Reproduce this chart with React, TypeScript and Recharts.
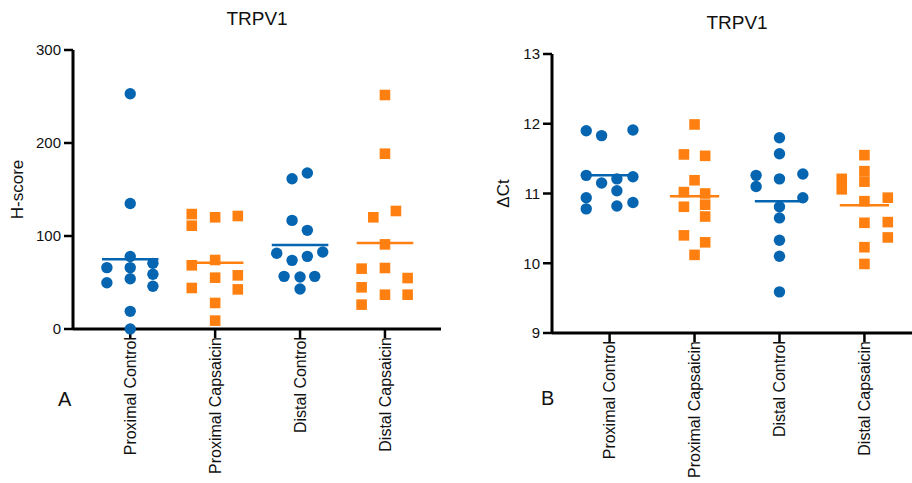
import React from 'react';
import {
  ScatterChart,
  Scatter,
  XAxis,
  YAxis,
  ReferenceLine,
  Label,
} from 'recharts';

const FONT = '"Liberation Sans", Arial, sans-serif';
const BLUE = '#0565B0';
const ORANGE = '#FF8010';

const categories = ['Proximal Control', 'Proximal Capsaicin', 'Distal Control', 'Distal Capsaicin'];

// panel A, H-score: [jitter, value]
const hProximalControl = [
  [0, 253], [0, 135], [0, 78], [-0.275, 66], [0, 66], [0.267, 70.6],
  [-0.275, 49.8], [0, 54.1], [0.267, 58.8], [0.267, 45.9], [0, 19], [0, 0],
];
const hProximalCapsaicin = [
  [-0.275, 123.6], [-0.275, 111.1], [0, 120.1], [0.267, 121.5], [-0.275, 68.5], [0, 74.2],
  [-0.275, 44.1], [0, 55.2], [0.267, 57.7], [0.267, 42.6], [0, 28], [0, 9],
];
const hDistalControl = [
  [-0.094, 161.6], [0.086, 167.7], [-0.094, 116.8], [0.086, 106.1], [-0.275, 81.4], [-0.094, 73.8],
  [0.086, 78.1], [0.267, 82.8], [-0.188, 56.6], [0, 55.9], [0.173, 56.6], [0, 43],
];
const hDistalCapsaicin = [
  [0, 251.6], [0, 188.5], [-0.137, 120.1], [0.129, 126.9], [0, 91], [-0.275, 64.9],
  [0, 65.6], [0.267, 54.8], [-0.275, 44.8], [0, 36.9], [0.267, 36.9], [-0.275, 26.2],
];
const hMeans = [74.9, 71.3, 90.3, 92.5];

// panel B, delta Ct: [jitter, value]
const ctProximalControl = [
  [-0.275, 11.9], [-0.094, 11.83], [0.275, 11.91], [-0.275, 11.26], [0.275, 11.24], [-0.094, 11.15],
  [0.086, 11.21], [0.086, 11.04], [-0.275, 10.94], [-0.275, 10.78], [0.086, 10.82], [0.275, 10.87],
];
const ctProximalCapsaicin = [
  [0, 11.99], [-0.125, 11.56], [0.125, 11.54], [0, 11.19], [-0.125, 11.02], [0.125, 11.0],
  [0.125, 10.84], [-0.125, 10.81], [0.125, 10.67], [-0.125, 10.4], [0.125, 10.3], [0, 10.12],
];
const ctDistalControl = [
  [0, 11.8], [0, 11.57], [-0.275, 11.26], [0.275, 11.28], [0, 11.21], [-0.275, 11.1],
  [0.275, 10.94], [0, 10.81], [0, 10.65], [0, 10.33], [0, 10.1], [0, 9.59],
];
const ctDistalCapsaicin = [
  [0, 11.55], [0, 11.32], [0, 11.17], [-0.267, 11.21], [-0.267, 11.06], [0, 10.89],
  [0.275, 10.94], [0, 10.58], [0.275, 10.59], [0.275, 10.37], [0, 10.23], [0, 9.99],
];
const ctMeans = [11.26, 10.96, 10.89, 10.83];

const toPoints = (group: number[][], idx: number) =>
  group.map(([j, v]) => ({ x: idx + j, y: v }));

const Dot = (props: any) => <circle cx={props.cx} cy={props.cy} r={5.7} fill={BLUE} />;
const Square = (props: any) => (
  <rect x={props.cx - 5.3} y={props.cy - 5.3} width={10.6} height={10.6} fill={ORANGE} />
);

const CategoryTick = (props: any) => {
  const { x, payload } = props;
  const y = props.y - 1;
  return (
    <text
      x={x}
      y={y}
      transform={`rotate(-90, ${x}, ${y})`}
      textAnchor="end"
      dy="0.36em"
      fill="#111"
      fontSize={16}
      fontFamily={FONT}
    >
      {categories[payload.value]}
    </text>
  );
};

const yTitle = (text: string, dx: number) => (props: any) => {
  const vb = props.viewBox;
  const cx = vb.x + dx;
  const cy = vb.y + vb.height / 2;
  return (
    <text
      x={cx}
      y={cy}
      transform={`rotate(-90, ${cx}, ${cy})`}
      textAnchor="middle"
      dominantBaseline="central"
      fill="#111"
      fontSize={17}
      fontFamily={FONT}
    >
      {text}
    </text>
  );
};

const axisLine = { stroke: '#000', strokeWidth: 3 };
const tickLine = { stroke: '#000', strokeWidth: 2.5 };
const tickStyle = { fill: '#111', fontSize: 15, fontFamily: FONT };

const css = `
.recharts-cartesian-axis-line { stroke: #000; stroke-width: 3px; }
.recharts-cartesian-axis-tick-line { stroke: #000; stroke-width: 2.5px; }
`;

const Panel = ({
  groups,
  means,
  half,
  width,
  margin,
  yWidth,
  xHeight,
  xDomain,
  yDomain,
  yTicks,
  yLabel,
  yLabelDx,
}: any) => (
  <ScatterChart width={width} height={483} margin={margin}>
    <XAxis
      type="number"
      dataKey="x"
      domain={xDomain}
      ticks={[0, 1, 2, 3]}
      interval={0}
      height={xHeight}
      stroke="#000"
      axisLine={axisLine}
      tickLine={tickLine}
      tickSize={9}
      tickMargin={0}
      tick={<CategoryTick />}
    />
    <YAxis
      type="number"
      dataKey="y"
      domain={yDomain}
      ticks={yTicks}
      interval={0}
      width={yWidth}
      stroke="#000"
      axisLine={axisLine}
      tickLine={tickLine}
      tickSize={9}
      tickMargin={3}
      tick={tickStyle}
    >
      <Label content={yTitle(yLabel, yLabelDx)} />
    </YAxis>
    {groups.map((g: number[][], i: number) => (
      <Scatter
        key={i}
        data={toPoints(g, i)}
        shape={i % 2 === 0 ? Dot : Square}
        isAnimationActive={false}
      />
    ))}
    {means.map((m: number, i: number) => (
      <ReferenceLine
        key={'m' + i}
        segment={[
          { x: i - half, y: m },
          { x: i + half, y: m },
        ]}
        stroke={i % 2 === 0 ? BLUE : ORANGE}
        strokeWidth={2.5}
      />
    ))}
  </ScatterChart>
);

const textStyle = { fill: '#111', fontFamily: FONT };

export default function App() {
  return (
    <div style={{ position: 'absolute', left: 0, top: 0, width: 912, height: 483, background: '#fff' }}>
      <style>{css}</style>
      <div style={{ position: 'absolute', left: 0, top: 0 }}>
        <Panel
          groups={[hProximalControl, hProximalCapsaicin, hDistalControl, hDistalCapsaicin]}
          means={hMeans}
          half={0.333}
          width={460}
          margin={{ top: 50, right: 19, bottom: 0, left: 0 }}
          yWidth={73}
          xHeight={154}
          xDomain={[-0.674, 3.66]}
          yDomain={[0, 300]}
          yTicks={[0, 100, 200, 300]}
          yLabel="H-score"
          yLabelDx={17}
        />
      </div>
      <div style={{ position: 'absolute', left: 460, top: 0 }}>
        <Panel
          groups={[ctProximalControl, ctProximalCapsaicin, ctDistalControl, ctDistalCapsaicin]}
          means={ctMeans}
          half={0.29}
          width={452}
          margin={{ top: 54, right: 0, bottom: 0, left: 0 }}
          yWidth={92}
          xHeight={150}
          xDomain={[-0.678, 3.56]}
          yDomain={[9, 13]}
          yTicks={[9, 10, 11, 12, 13]}
          yLabel="ΔCt"
          yLabelDx={43}
        />
      </div>
      <svg width={912} height={483} style={{ position: 'absolute', left: 0, top: 0, pointerEvents: 'none' }}>
        <text x={257} y={25} textAnchor="middle" fontSize={19} {...textStyle}>TRPV1</text>
        <text x={737} y={29} textAnchor="middle" fontSize={19} {...textStyle}>TRPV1</text>
        <text x={58} y={406} fontSize={20} {...textStyle}>A</text>
        <text x={541} y={405} fontSize={20} {...textStyle}>B</text>
      </svg>
    </div>
  );
}
